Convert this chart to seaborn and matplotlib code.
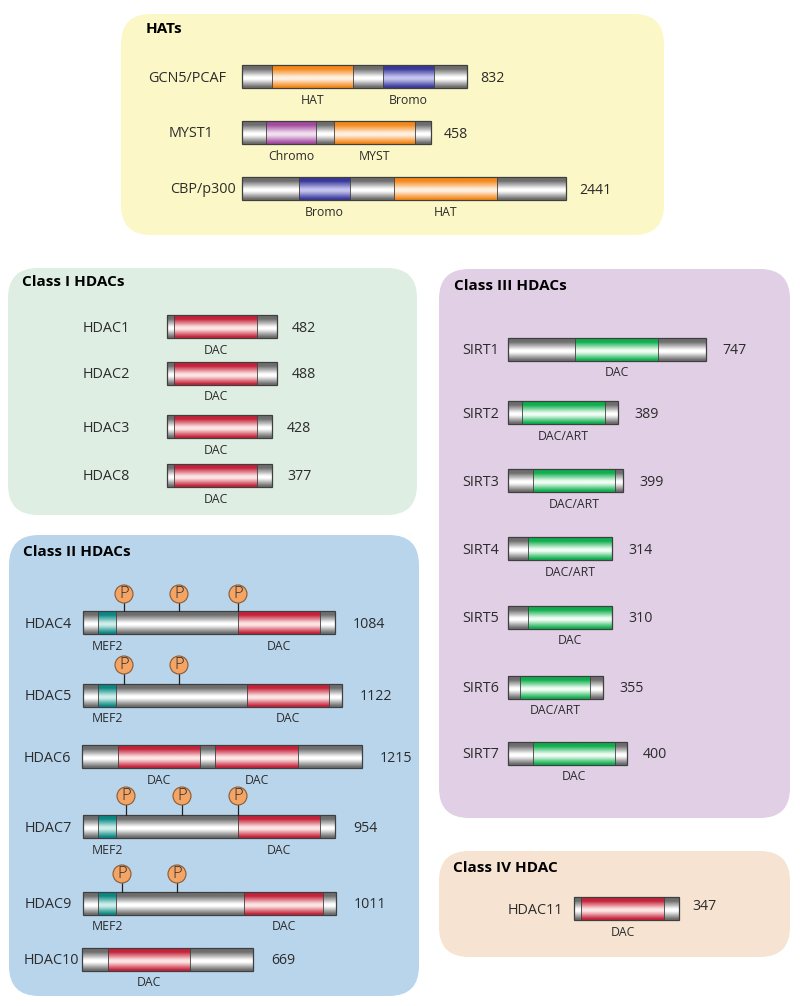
import matplotlib.pyplot as plt
import seaborn as sns
from matplotlib.colors import LinearSegmentedColormap
from matplotlib.patches import Circle, FancyBboxPatch, Rectangle

# protein names, residue counts, drawn length and domains (start/end along the bar)
hat_names = ['GCN5/PCAF', 'MYST1', 'CBP/p300']
hat_sizes = [832, 458, 2441]
hat_extents = [225, 189, 324]
hat_domains = [[('HAT', 30, 111), ('Bromo', 141, 192)],
               [('Chromo', 24, 74), ('MYST', 92, 173)],
               [('Bromo', 57, 108), ('HAT', 152, 255)]]

class1_names = ['HDAC1', 'HDAC2', 'HDAC3', 'HDAC8']
class1_sizes = [482, 488, 428, 377]
class1_extents = [110, 110, 105, 105]
class1_domains = [[('DAC', 7, 90)], [('DAC', 7, 90)], [('DAC', 7, 90)], [('DAC', 7, 90)]]

class2_names = ['HDAC4', 'HDAC5', 'HDAC6', 'HDAC7', 'HDAC9', 'HDAC10']
class2_sizes = [1084, 1122, 1215, 954, 1011, 669]
class2_extents = [252, 259, 280, 252, 253, 171]
class2_domains = [[('MEF2', 15, 33), ('DAC', 155, 237)],
                  [('MEF2', 15, 33), ('DAC', 164, 246)],
                  [('DAC', 36, 118), ('DAC', 133, 216)],
                  [('MEF2', 15, 33), ('DAC', 155, 237)],
                  [('MEF2', 15, 33), ('DAC', 161, 240)],
                  [('DAC', 26, 108)]]
class2_psites = [[41, 96, 155], [41, 96], [], [43, 99, 155], [39, 94], []]

class3_names = ['SIRT1', 'SIRT2', 'SIRT3', 'SIRT4', 'SIRT5', 'SIRT6', 'SIRT7']
class3_sizes = [747, 389, 399, 314, 310, 355, 400]
class3_extents = [198, 110, 115, 104, 104, 95, 119]
class3_domains = [[('DAC', 67, 150)], [('DAC/ART', 14, 97)], [('DAC/ART', 25, 107)],
                  [('DAC/ART', 20, 104)], [('DAC', 20, 104)], [('DAC/ART', 12, 82)],
                  [('DAC', 25, 107)]]

class4_names = ['HDAC11']
class4_sizes = [347]
class4_extents = [105]
class4_domains = [[('DAC', 7, 90)]]

# layout in picture pixels
panels = [
    {'title': 'HATs', 'box': (121, 14, 664, 235), 'color': '#fbf7c6', 'title_xy': (146, 28),
     'names': hat_names, 'sizes': hat_sizes, 'extents': hat_extents, 'domains': hat_domains,
     'psites': None, 'p_rise': None, 'bar_x': [242, 242, 242], 'bar_y': [65, 121, 177],
     'name_x': [148, 169, 170], 'name_dy': [0, -1, -1], 'size_gap': 13, 'size_dy': 0, 'dac': 'DAC'},
    {'title': 'Class I HDACs', 'box': (8, 268, 417, 515), 'color': '#deeee3', 'title_xy': (22, 281),
     'names': class1_names, 'sizes': class1_sizes, 'extents': class1_extents, 'domains': class1_domains,
     'psites': None, 'p_rise': None, 'bar_x': [167] * 4, 'bar_y': [315, 362, 415, 464],
     'name_x': [83] * 4, 'name_dy': [0] * 4, 'size_gap': 15, 'size_dy': 0, 'dac': 'DAC'},
    {'title': 'Class II HDACs', 'box': (9, 535, 419, 996), 'color': '#b9d5ec', 'title_xy': (23, 551),
     'names': class2_names, 'sizes': class2_sizes, 'extents': class2_extents, 'domains': class2_domains,
     'psites': class2_psites, 'p_rise': [17, 19, 0, 19, 18, 0], 'bar_x': [83, 83, 82, 83, 83, 82],
     'bar_y': [611, 684, 745, 815, 892, 948], 'name_x': [25, 25, 24, 25, 25, 24],
     'name_dy': [0] * 6, 'size_gap': 18, 'size_dy': 0, 'dac': 'DAC'},
    {'title': 'Class III HDACs', 'box': (439, 269, 790, 818), 'color': '#e0cfe5', 'title_xy': (454, 285),
     'names': class3_names, 'sizes': class3_sizes, 'extents': class3_extents, 'domains': class3_domains,
     'psites': None, 'p_rise': None, 'bar_x': [508] * 7, 'bar_y': [338, 401, 469, 537, 606, 676, 742],
     'name_x': [462] * 7, 'name_dy': [0] * 7, 'size_gap': 16, 'size_dy': 0, 'dac': 'SIRT'},
    {'title': 'Class IV HDAC', 'box': (439, 851, 790, 957), 'color': '#f7e3d1', 'title_xy': (453, 868),
     'names': class4_names, 'sizes': class4_sizes, 'extents': class4_extents, 'domains': class4_domains,
     'psites': None, 'p_rise': None, 'bar_x': [574], 'bar_y': [897], 'name_x': [508], 'name_dy': [0],
     'size_gap': 13, 'size_dy': -4, 'dac': 'DAC'},
]

BAR_H = 23
P_R = 9
TEXT = '#2b2b2b'
EDGE = '#3f3f3f'

domain_colors = {'HAT': ('#f5881a', '#fff0e0'), 'MYST': ('#f5881a', '#fff0e0'),
                 'Bromo': ('#38389a', '#c4c4ee'), 'Chromo': ('#a24a9e', '#f2dff0'),
                 'DAC': ('#c4223a', '#fde4e4'), 'SIRT': ('#0fae4e', '#effdf3'),
                 'MEF2': ('#0b8783', '#cdeeea')}


def gradient(dark, light):
    # shaded tube look: colour at the edges, wide light band a bit under the middle
    return LinearSegmentedColormap.from_list(
        'tube', [(0, dark), (0.16, dark), (0.52, light), (0.62, light), (0.96, dark), (1, dark)])


def fill_rect(ax, cmap, left, right, top, z):
    grad = [[i / 39] for i in range(40)]
    ax.imshow(grad, cmap=cmap, extent=(left, right, top + BAR_H, top), aspect='auto',
              origin='upper', zorder=z, vmin=0, vmax=1, interpolation='bilinear')


def draw_protein(ax, x, y, extent, domains, dac_key):
    fill_rect(ax, gradient('#6e6e6e', '#ffffff'), x, x + extent, y, 2)
    for label, start, end in domains:
        key = dac_key if label.startswith('DAC') else label
        dark, light = domain_colors[key]
        fill_rect(ax, gradient(dark, light), x + start, x + end, y, 3)
        ax.add_patch(Rectangle((x + start, y), end - start, BAR_H, fill=False,
                               ec=EDGE, lw=0.6, zorder=4))
        ax.text(x + (start + end) / 2, y + 35, label, ha='center', va='center',
                fontsize=8.8, color=TEXT, zorder=5)
    ax.add_patch(Rectangle((x, y), extent, BAR_H, fill=False, ec=EDGE, lw=0.9, zorder=4))


def draw_psite(ax, x, y, rise):
    ax.plot([x, x], [y, y - rise + P_R], color='#222222', lw=0.9, zorder=4)
    ax.add_patch(Circle((x, y - rise), P_R, fc='#f4a566', ec='#8a5a32', lw=0.8, zorder=5))
    ax.text(x, y - rise, 'P', ha='center', va='center', fontsize=12, fontweight='light',
            color=TEXT, zorder=6)


sns.set_theme(style='white')
plt.rcParams['font.family'] = ['Open Sans', 'DejaVu Sans']

fig = plt.figure(figsize=(8, 10.06), dpi=100)
ax = fig.add_axes([0, 0, 1, 1])

for panel in panels:
    left, top, right, bottom = panel['box']
    ax.add_patch(FancyBboxPatch((left, top), right - left, bottom - top,
                                boxstyle='round,pad=0,rounding_size=30',
                                fc=panel['color'], ec='none', zorder=1))
    ax.text(panel['title_xy'][0], panel['title_xy'][1] + 0.5, panel['title'], ha='left', va='center',
            fontsize=11, fontweight='bold', color='#000000', zorder=5)
    for i, name in enumerate(panel['names']):
        x, y = panel['bar_x'][i], panel['bar_y'][i]
        draw_protein(ax, x, y, panel['extents'][i], panel['domains'][i], panel['dac'])
        mid = y + BAR_H / 2 + 1.5
        ax.text(panel['name_x'][i], mid + panel['name_dy'][i], name, ha='left', va='center',
                fontsize=10.4, color=TEXT, zorder=5)
        ax.text(x + panel['extents'][i] + panel['size_gap'], mid + panel['size_dy'],
                str(panel['sizes'][i]), ha='left', va='center', fontsize=10.2, color=TEXT, zorder=5)
        if panel['psites']:
            for site in panel['psites'][i]:
                draw_psite(ax, x + site, y, panel['p_rise'][i])

ax.set_xlim(0, 800)
ax.set_ylim(1006, 0)
ax.axis('off')

fig.savefig('out.png', dpi=100, facecolor='white')
